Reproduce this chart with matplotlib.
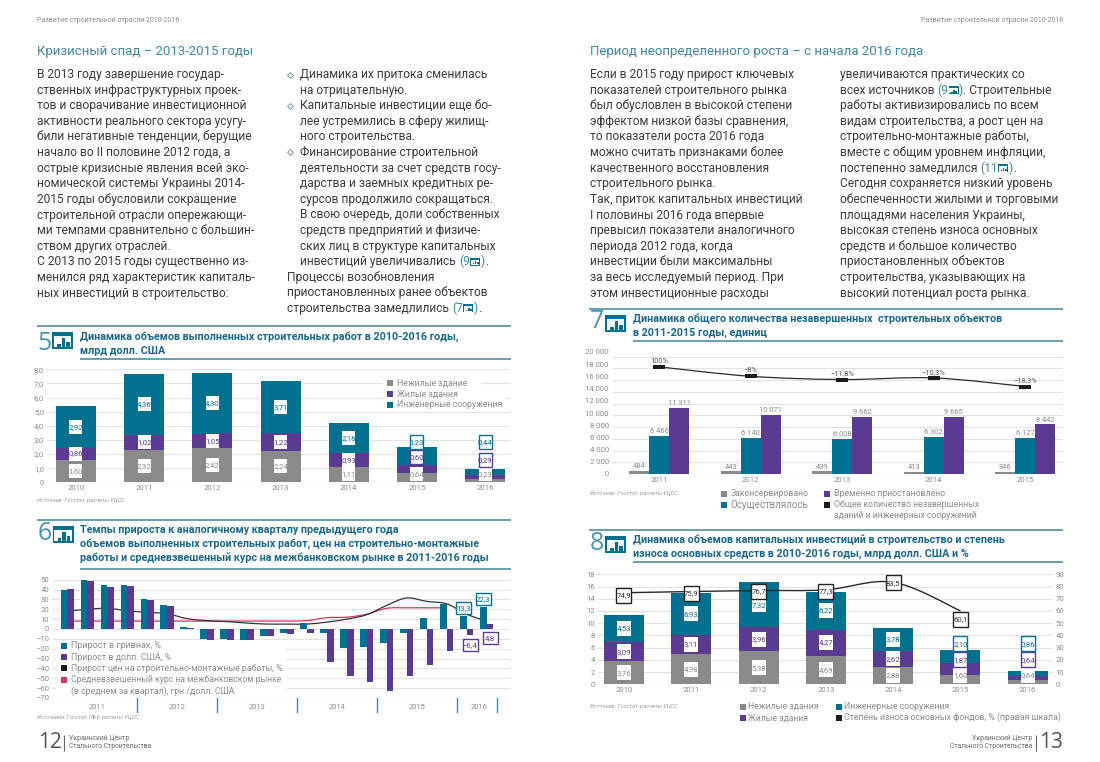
import matplotlib
matplotlib.use("Agg")
import matplotlib.pyplot as plt
from matplotlib.patches import Rectangle, PathPatch
from matplotlib.path import Path
import numpy as np

W, H = 1100, 762
TEAL = "#00708f"; PURPLE = "#5b3a91"; GRAY = "#8a8a8a"; BLACK = "#1c1c1c"; RED = "#d8375d"
TITLE = "#19678a"; RULE = "#5f96a8"; TXT = "#3b3b3b"; TICK = "#8c8c8c"; GRID = "#dfe3e6"; HEAD = "#3f87a5"
NUMC = "#4f93aa"
plt.rcParams["font.family"] = ["Roboto", "DejaVu Sans"]

# ---------- chart 5 ----------
years5 = ["2010", "2011", "2012", "2013", "2014", "2015", "2016"]
c5_nonres = [1.60, 2.32, 2.42, 2.24, 1.11, 0.64, 0.23]
c5_res = [0.86, 1.02, 1.05, 1.22, 0.93, 0.60, 0.29]
c5_eng = [2.92, 4.36, 4.30, 3.71, 2.16, 1.23, 0.44]
c5_yticks = [0, 1, 2, 3, 4, 5, 6, 7, 8]
c5_ylabels = ["0", "1,0", "2,0", "3,0", "4,0", "5,0", "6,0", "7,0", "8,0"]
c5_legend = ["Нежилые здание", "Жилые здания", "Инженерные сооружения"]

# ---------- chart 6 ----------
c6_uah = [40, 50, 44.5, 44.5, 30, 24.5, 2.5, -10, -10, -14, -7.5, -4.5, 6.5, -4, -19, -18, -14, -4, 11, 25.5, 13.3, 22.3]
c6_usd = [41, 49, 42.5, 43.5, 29, 23.5, 1, -11, -11, -15, -7.5, -5.5, -4, -33.5, -48, -53.5, -63, -48, -36.5, -22, -6.4, 4.8]
c6_price = [18, 20, 21, 18.5, 17, 15.5, 10.5, 8.5, 7.5, 6, 5, 5, 5, 7, 10, 14.5, 24, 31.5, 28, 25.5, 15, 8]
c6_rate = [8, 8, 8, 8, 8, 8, 8, 8, 8, 8, 8, 8, 8.5, 11.5, 12, 15, 21, 21.5, 21.5, 21.5]
c6_years = ["2011", "2012", "2013", "2014", "2015", "2016"]
c6_year_at = [1.5, 5.5, 9.5, 13.5, 17.5, 20.6]
c6_dividers = [3.5, 7.5, 11.5, 15.5, 19.5, 21.5]
c6_yticks = [50, 40, 30, 20, 10, 0, -10, -20, -30, -40, -50, -60, -70]
c6_legend = ["Прирост в гривнах, %", "Прирост в долл. США, %", "Прирост цен на строительно-монтажные работы, %",
             "Средневзвешенный курс на межбанковском рынке", "(в среднем за квартал), грн./долл. США"]

# ---------- chart 7 ----------
years7 = ["2011", "2012", "2013", "2014", "2015"]
c7_frozen = [484, 443, 439, 413, 346]
c7_active = [6466, 6140, 6008, 6302, 6127]
c7_paused = [11311, 10071, 9662, 9665, 8442]
c7_total = [18261, 16654, 16109, 16380, 14915]
c7_change = ["100%", "−8%", "−11,8%", "−10,3%", "−18,3%"]
c7_yticks = [0, 2000, 4000, 6000, 8000, 10000, 12000, 14000, 16000, 18000, 20000]
c7_ylabels = ["0", "2 000", "4 000", "6 000", "8 000", "10 000", "12 000", "14 000", "16 000", "18 000", "20 000"]

# ---------- chart 8 ----------
years8 = ["2010", "2011", "2012", "2013", "2014", "2015", "2016"]
c8_nonres = [3.76, 4.98, 5.38, 4.69, 2.88, 1.60, 0.64]
c8_res = [3.09, 3.11, 3.96, 4.27, 2.62, 1.87, 0.64]
c8_eng = [4.53, 6.93, 7.32, 6.22, 3.78, 2.10, 0.86]
c8_wear = [74.9, 75.9, 76.7, 77.3, 83.5, 60.1]
c8_yleft = [0, 2, 4, 6, 8, 10, 12, 14, 16, 18]
c8_yright = [0, 10, 20, 30, 40, 50, 60, 70, 80, 90]

# ---------- text ----------
header = "Развитие строительной отрасли 2010-2016"
head_l = "Кризисный спад – 2013-2015 годы"
head_r = "Период неопределенного роста – с начала 2016 года"
col1 = ["В 2013 году завершение государ-", "ственных инфраструктурных проек-", "тов и сворачивание инвестиционной",
        "активности реального сектора усугу-", "били негативные тенденции, берущие", "начало во II половине 2012 года, а",
        "острые кризисные явления всей эко-", "номической системы Украины 2014-", "2015 годы обусловили сокращение",
        "строительной отрасли опережающи-", "ми темпами сравнительно с большин-", "ством других отраслей.",
        "С 2013 по 2015 годы существенно из-", "менился ряд характеристик капиталь-", "ных инвестиций в строительство:"]
col2 = ["Динамика их притока сменилась", "на отрицательную.", "Капитальные инвестиции еще бо-", "лее устремились в сферу жилищ-",
        "ного строительства.", "Финансирование строительной", "деятельности за счет средств госу-", "дарства и заемных кредитных ре-",
        "сурсов продолжило сокращаться.", "В свою очередь, доли собственных", "средств предприятий и физиче-",
        "ских лиц в структуре капитальных", "инвестиций увеличивались (9¤)."]
col2b = ["Процессы возобновления", "приостановленных ранее объектов", "строительства замедлились (7¤)."]
col3 = ["Если в 2015 году прирост ключевых", "показателей строительного рынка", "был обусловлен в высокой степени",
        "эффектом низкой базы сравнения,", "то показатели роста 2016 года", "можно считать признаками более",
        "качественного восстановления", "строительного рынка.", "Так, приток капитальных инвестиций",
        "I половины 2016 года впервые", "превысил показатели аналогичного", "периода 2012 года, когда",
        "инвестиции были максимальны", "за весь исследуемый период. При", "этом инвестиционные расходы"]
col4 = ["увеличиваются практических со", "всех источников (9¤). Строительные", "работы активизировались по всем",
        "видам строительства, а рост цен на", "строительно-монтажные работы,", "вместе с общим уровнем инфляции,",
        "постепенно замедлился (11¤).", "Сегодня сохраняется низкий уровень", "обеспеченности жилыми и торговыми",
        "площадями населения Украины,", "высокая степень износа основных", "средств и большое количество",
        "приостановленных объектов", "строительства, указывающих на", "высокий потенциал роста рынка."]
t5 = ["Динамика объемов выполненных строительных работ в 2010-2016 годы,", "млрд долл. США"]
t6 = ["Темпы прироста к аналогичному кварталу предыдущего года",
      "объемов выполненных строительных работ, цен на строительно-монтажные",
      "работы и средневзвешенный курс на межбанковском рынке в 2011-2016 годы"]
t7 = ["Динамика общего количества незавершенных  строительных объектов", "в 2011-2015 годы, единиц"]
t8 = ["Динамика объемов капитальных инвестиций в строительство и степень",
      "износа основных средств в 2010-2016 годы, млрд долл. США и %"]

fig = plt.figure(figsize=(W / 100, H / 100), dpi=100, facecolor="white")
ov = fig.add_axes([0, 0, 1, 1], zorder=10)
ov.set_xlim(0, W); ov.set_ylim(H, 0); ov.axis("off"); ov.patch.set_alpha(0)
fig.canvas.draw()
rend = fig.canvas.get_renderer()


def axpx(l, t, r, b):
    return fig.add_axes([l / W, 1 - b / H, (r - l) / W, (b - t) / H])


def style(ax, fs=5.6):
    for s in ax.spines.values():
        s.set_visible(False)
    ax.tick_params(length=0, labelsize=fs, labelcolor=TICK, pad=2)
    ax.set_axisbelow(True)


def px(ax, x, y):
    a, b = ax.transData.transform((x, y))
    return a, H - b


def T(x, y, s, size, color=TXT, ha="left", width=None, **kw):
    t = ov.text(x, y, s, fontsize=size, color=color, ha=ha, va="center", **kw)
    if width:
        w = t.get_window_extent(rend).width
        t.set_fontsize(size * width / w)
    return t


def rect(x0, y0, x1, y1, fc, ec="none", lw=0, z=2):
    ov.add_patch(Rectangle((x0, y0), x1 - x0, y1 - y0, fc=fc, ec=ec, lw=lw, zorder=z))


def line(x0, y0, x1, y1, c=RULE, lw=1.3):
    ov.plot([x0, x1], [y0, y1], color=c, lw=lw, solid_capstyle="butt", zorder=2)


def icon(x, y, w, h, border=1.6):
    rect(x, y, x + w, y + h, TEAL)
    top = h * 0.22
    rect(x + border, y + top, x + w - border, y + h - border, "white", z=3)
    bw = w * 0.17
    for k, f in enumerate((0.25, 0.8, 0.5)):
        bx = x + w * (0.24 + 0.22 * k)
        bt = y + h - border - 0.8
        rect(bx, bt - (h - top - border - 1.5) * f, bx + bw, bt, TEAL, z=4)


def box(ax, x, y, s, col, w=13, h=14, edge=None, size=5.6, tcol=None):
    a, b = px(ax, x, y)
    rect(a - w / 2, b - h / 2, a + w / 2, b + h / 2, "white", ec=edge or "none", lw=1 if edge else 0, z=5)
    ov.text(a, b, s, fontsize=size, color=tcol or col, ha="center", va="center", zorder=6)


def smooth(ax, x, y, color, lw, z):
    p = np.column_stack([x, y]).astype(float)
    verts = [p[0]]; codes = [Path.MOVETO]
    for i in range(len(p) - 1):
        p0 = p[max(i - 1, 0)]; p1 = p[i]; p2 = p[i + 1]; p3 = p[min(i + 2, len(p) - 1)]
        verts += [p1 + (p2 - p0) / 6, p2 - (p3 - p1) / 6, p2]
        codes += [Path.CURVE4] * 3
    ax.add_patch(PathPatch(Path(verts, codes), fc="none", ec=color, lw=lw, zorder=z))


def body(x, y0, lines, size=8.65, step=15.62):
    for i, s in enumerate(lines):
        y = y0 + i * step
        if "¤" not in s:
            T(x, y, s, size)
            continue
        a, rest = s.split("¤")
        k = a.rfind("(")
        cur = x
        for seg, c in ((a[:k], TXT), (a[k:], HEAD)):
            if seg:
                t = T(cur, y, seg.replace(" ", "\u00a0"), size, c)
                cur += t.get_window_extent(rend).width
        icon(cur + 0.5, y - 3.8, 10, 8, border=0.9)
        cur += 11
        t = T(cur, y, rest[0], size, HEAD)
        cur += t.get_window_extent(rend).width
        if rest[1:]:
            T(cur, y, rest[1:].replace(" ", "\u00a0"), size)


def diamond(x, y):
    ov.plot([x], [y], marker="D", ms=3, mfc="white", mec="#7a9aa6", mew=0.7, zorder=3)


# ---------- page text ----------
T(37, 20, header, 5, "#8b8b8b", width=143)
T(1063, 20, header, 5, "#8b8b8b", ha="right", width=143)
T(37, 51, head_l, 10, HEAD, width=216)
T(590, 51, head_r, 10, HEAD, width=333)
body(37, 74.5, col1)
body(300, 74.5, col2[:2]); body(300, 105.7, col2[2:5]); body(300, 152.4, col2[5:])
body(287, 277, col2b)
for yy in (74.5, 105.7, 152.4):
    diamond(290, yy)
body(590, 74.5, col3)
body(839.5, 74.5, col4)

# ---------- rules, titles, numbers ----------
for x0, x1, x2, yt, ys, n, ny, ix, iy, lines, ty, tw in (
    (37, 80, 511, 326, 359, "5", 343, 52, 332, t5, 337, 378),
    (37, 80, 511, 520, 569, "6", 533, 52.5, 526, t6, 530, 407),
    (589, 633, 1063, 309, 341, "7", 322, 605, 315, t7, 319, 371),
    (589, 633, 1063, 530, 542 + 20, "8", 543, 605, 536, t8, 540, 374),
):
    line(x0, yt, x2, yt)
    line(x1, ys, x2, ys)
    T(x0 + 0.5, ny, n, 18, NUMC, fontweight="normal", family=["Open Sans", "DejaVu Sans"])
    icon(ix, iy, 21, 17)
    step = 13.6
    widest = max(lines, key=len)
    probe = T(0, -50, widest, 7.5, TITLE, fontweight="bold", width=tw)
    fs = probe.get_fontsize(); probe.remove()
    for i, s in enumerate(lines):
        T(x1, ty + i * step, s, fs, TITLE, fontweight="bold")

SRC = "#9a9a9a"
T(37, 500.7, "Источник: Госстат, расчеты УЦСС", 4, SRC, style="italic", width=86)
T(37, 718, "Источники: Госстат, НБУ, расчеты УЦСС", 4, SRC, style="italic", width=100)
T(590, 494, "Источник: Госстат, расчеты УЦСС", 4, SRC, style="italic", width=86)
T(590, 706.6, "Источник: Госстат, расчеты УЦСС", 4, SRC, style="italic", width=86)

# ---------- footers ----------
T(38, 743, "12", 15, "#555555", family=["Open Sans", "DejaVu Sans"])
line(64, 735, 64, 751, "#666666", 0.8)
T(69, 738, "Украинский Центр", 5, "#6a6a6a", width=61)
T(69, 747, "Стального Строительства", 5, "#6a6a6a", width=84)
T(1063, 743, "13", 15, "#555555", ha="right", family=["Open Sans", "DejaVu Sans"])
line(1035.7, 735, 1035.7, 751, "#666666", 0.8)
T(1032, 738, "Украинский Центр", 5, "#6a6a6a", ha="right", width=61)
T(1032, 747, "Стального Строительства", 5, "#6a6a6a", ha="right", width=84)

# ---------- chart 5 ----------
ax = axpx(47, 369.3, 510, 482.3)
style(ax)
ax.set_xlim(-0.425, 6.365); ax.set_ylim(0, 8)
ax.set_yticks(c5_yticks, c5_ylabels); ax.set_xticks(range(7), years5)
ax.grid(axis="y", color=GRID, lw=0.8)
x = np.arange(7); bw = 40 / 68.2
n_, r_, e_ = map(np.array, (c5_nonres, c5_res, c5_eng))
ax.bar(x, n_, bw, color=GRAY); ax.bar(x, r_, bw, bottom=n_, color=PURPLE); ax.bar(x, e_, bw, bottom=n_ + r_, color=TEAL)
for i in range(7):
    moved = i >= 5
    ys = [n_[i] / 2, n_[i] + r_[i] / 2, n_[i] + r_[i] + e_[i] / 2]
    if i == 5:
        ys = [0.57, 1.8, 2.85]
    if i == 6:
        ys = [0.57, 1.58, 2.85]
    box(ax, i, ys[0], f"{n_[i]:.2f}".replace(".", ","), GRAY)
    box(ax, i, ys[1], f"{r_[i]:.2f}".replace(".", ","), PURPLE, edge=PURPLE if moved else None)
    box(ax, i, ys[2], f"{e_[i]:.2f}".replace(".", ","), TEAL, edge=TEAL if moved else None)
rect(383, 378, 482, 390, "white", z=1.5); rect(383, 390, 505, 411, "white", z=1.5)
for i, (lab, c) in enumerate(zip(c5_legend, (GRAY, PURPLE, TEAL))):
    y = 382.7 + i * 11.1
    rect(387, y - 3, 393, y + 3, c)
    T(397, y, lab, 6.6, TICK, width=[70, 61.5, 106][i])

# ---------- chart 6 ----------
ax = axpx(52, 579.7, 510, 698)
style(ax)
ax.set_xlim(-0.766, 22.17); ax.set_ylim(-70, 50)
ax.set_yticks(c6_yticks, [str(v).replace("-", "−") for v in c6_yticks])
ax.set_xticks([])
ax.grid(axis="y", color=GRID, lw=0.8)
x = np.arange(len(c6_uah)); bw = 0.334
smooth(ax, np.arange(len(c6_rate)), c6_rate, RED, 0.9, 1.5)
smooth(ax, x, c6_price, "#333333", 0.9, 1.6)
ax.bar(x - bw / 2, c6_uah, bw, color=TEAL, zorder=2.5)
ax.bar(x + bw / 2, c6_usd, bw, color=PURPLE, zorder=2.5)
for d in c6_dividers:
    ax.plot([d, d], [-70, -84], color="#4f8aa0", lw=1, clip_on=False)
for lab, at in zip(c6_years, c6_year_at):
    ax.text(at, -80, lab, fontsize=5.4, color=TICK, ha="center", va="center", clip_on=False)
box(ax, 19.83, 21.3, "13,3", TEAL, w=15, h=12, edge=TEAL)
box(ax, 20.83, 30, "22,3", TEAL, w=15, h=12, edge=TEAL)
box(ax, 20.17, -16.5, "−6,4", PURPLE, w=15, h=12, edge=PURPLE)
box(ax, 21.17, -9, "4,8", PURPLE, w=15, h=12, edge=PURPLE)
rect(56, 640, 287, 697, "white", z=1.5)
for i, (lab, c) in enumerate(zip(c6_legend, (TEAL, PURPLE, BLACK, RED, None))):
    y = 646 + i * 11.2
    if c:
        rect(61, y - 3, 67, y + 3, c)
    T(71, y, lab, 6.8, TICK, width=[91, 102, 213, 213, 165][i])

# ---------- chart 7 ----------
ax = axpx(611.7, 352, 1062.7, 474)
style(ax)
top = 122 / (118.3 / 20000)
ax.set_xlim(-0.52, 4.41); ax.set_ylim(0, top)
ax.set_yticks([v * 1.04 for v in c7_yticks], c7_ylabels)
ax.set_xticks(range(5), years7)
ax.hlines(c7_yticks, -0.52, 4.41, color=GRID, lw=0.8, zorder=0)
x = np.arange(5); bw = 20 / 91.5
ax.bar(x - bw, c7_frozen, bw, color=GRAY); ax.bar(x, c7_active, bw, color=TEAL); ax.bar(x + bw, c7_paused, bw, color=PURPLE)
fmt = lambda v: f"{v:,}".replace(",", " ")
for i in range(5):
    for xx, v in ((i - bw, c7_frozen[i]), (i, c7_active[i]), (i + bw, c7_paused[i])):
        ax.text(xx, v + 150, fmt(v), fontsize=5.4, color=TICK, ha="center", va="bottom")
    ax.text(i, c7_total[i] + 350, c7_change[i], fontsize=5.4, color="#555555", ha="center", va="bottom")
smooth(ax, x, c7_total, "#2a2a2a", 0.9, 3)
for i in range(5):
    a, b = px(ax, i, c7_total[i])
    rect(a - 6, b - 2, a + 6, b + 2, BLACK, z=3)
for (sx, sy, lab, c, w) in ((721, 493.5, "Законсервировано", GRAY, 79),
                            (721, 504.5, "Осуществлялось", TEAL, 78),
                            (824, 493.5, "Временно приостановлено", PURPLE, 113),
                            (824, 504.5, "Общее количество незавершенных", BLACK, 147)):
    rect(sx, sy - 3, sx + 6, sy + 3, c)
    T(sx + 9.5, sy, lab, 6.8, TICK, width=w)
T(833.5, 516, "зданий и инженерных сооружений", 6.8, TICK, width=146)

# ---------- chart 8 ----------
ax = axpx(598, 574.3, 1053, 684.3)
style(ax)
ax.set_xlim(-0.386, 6.375); ax.set_ylim(0, 18)
ax.set_yticks(c8_yleft, [str(v) for v in c8_yleft]); ax.set_xticks(range(7), years8)
ax.grid(axis="y", color=GRID, lw=0.8)
x = np.arange(7); bw = 40 / 67.3
n_, r_, e_ = map(np.array, (c8_nonres, c8_res, c8_eng))
ax.bar(x, n_, bw, color=GRAY); ax.bar(x, r_, bw, bottom=n_, color=PURPLE); ax.bar(x, e_, bw, bottom=n_ + r_, color=TEAL)
ax2 = ax.twinx()
style(ax2)
ax2.set_ylim(0, 90); ax2.set_yticks(c8_yright, [str(v) for v in c8_yright])
ax2.patch.set_alpha(0)
smooth(ax2, np.arange(6), c8_wear, "#2a2a2a", 1, 3)
for i in range(7):
    moved = i >= 5
    ys = [n_[i] / 2, n_[i] + r_[i] / 2, n_[i] + r_[i] + e_[i] / 2]
    if i >= 5:
        ys = [1.42, 4.0, 6.65]
    box(ax, i, ys[0], f"{n_[i]:.2f}".replace(".", ","), GRAY, w=14, h=15)
    box(ax, i, ys[1], f"{r_[i]:.2f}".replace(".", ","), PURPLE, w=14, h=15, edge=PURPLE if moved else None)
    box(ax, i, ys[2], f"{e_[i]:.2f}".replace(".", ","), TEAL, w=14, h=15, edge=TEAL if moved else None)
for i, yb in enumerate((73, 74.5, 76, 76.3, 83, 52.9)):
    box(ax2, i, yb, f"{c8_wear[i]:.1f}".replace(".", ","), BLACK, w=15, h=15, edge="#222222", tcol="#333333")
for (sx, sy, lab, c, w) in ((740, 706.5, "Нежилые здания", GRAY, 71),
                            (740, 717.5, "Жилые здания", PURPLE, 61),
                            (836, 706.5, "Инженерные сооружения", TEAL, 106),
                            (836, 717.5, "Степень износа основных фондов, % (правая шкала)", BLACK, 220)):
    rect(sx, sy - 3, sx + 6, sy + 3, c)
    T(sx + 8.5, sy, lab, 6.8, TICK, width=w)

fig.savefig("out.png", dpi=100, facecolor="white")
